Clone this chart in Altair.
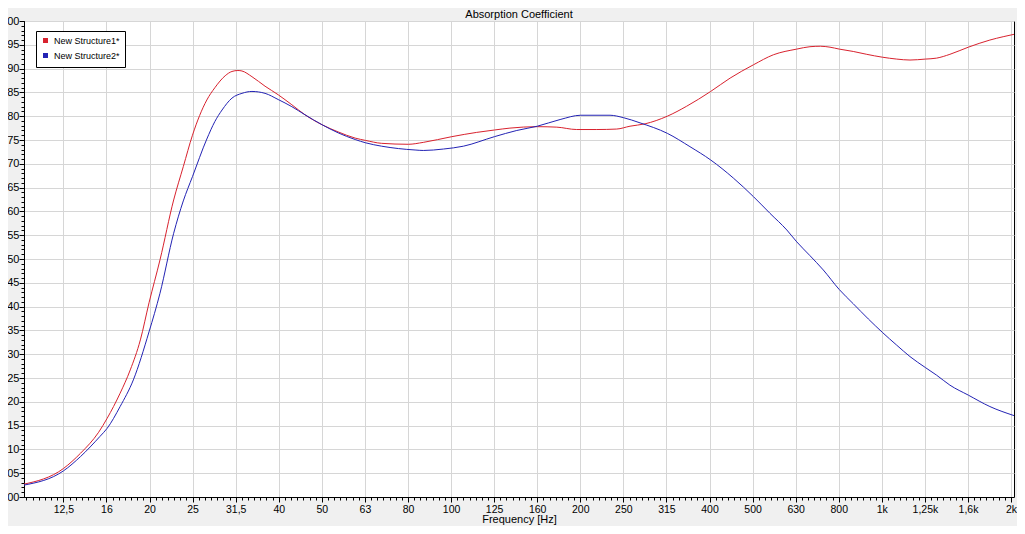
import altair as alt
import pandas as pd

# ---- data ----
series_names = ["New Structure1*", "New Structure2*"]

s1_freq = [10.2, 12.6, 13.8, 15.2, 15.9, 17.05, 18.0, 19.0, 19.9, 21.1, 22.7, 23.9, 25.1,
           27.1, 28.3, 29.9, 31.0, 32.0, 32.7, 34.5, 37.0, 39.7, 42.7, 45.8, 50.2,
           54.7, 59.9, 63.4, 69.0, 79.6, 86.2, 100.4, 114.7, 126.1, 137.0, 158.6, 176.0,
           195.7, 217.9, 242.4, 260.3, 282.1, 317.7, 352.4, 400.6, 444.4, 503.5, 560.0,
           634.7, 681.1, 720.0, 758.0, 796.3, 858.4, 922.6, 1002.5, 1082.8, 1162.5, 1262,
           1340, 1439, 1588, 1782, 1913, 2027]
s1_alpha = [0.027, 0.060, 0.092, 0.136, 0.165, 0.218, 0.267, 0.330, 0.408, 0.498, 0.624,
            0.694, 0.760, 0.834, 0.860, 0.885, 0.894, 0.896, 0.895, 0.883, 0.863,
            0.845, 0.824, 0.803, 0.782, 0.767, 0.754, 0.749, 0.743, 0.741, 0.745, 0.757,
            0.766, 0.771, 0.775, 0.778, 0.777, 0.772, 0.772, 0.773, 0.779, 0.784, 0.800,
            0.821, 0.852, 0.880, 0.908, 0.929, 0.941, 0.946, 0.947, 0.945, 0.941, 0.936,
            0.930, 0.924, 0.920, 0.918, 0.920, 0.922, 0.930, 0.945, 0.960, 0.967, 0.972]

s2_freq = [10.2, 12.6, 13.8, 15.3, 15.9, 17.05, 18.3, 19.9, 21.1, 22.7, 23.9, 25.1, 27.1,
           28.3, 29.4, 31.0, 32.7, 34.5, 37.0, 39.7, 42.7, 45.8, 50.2, 54.7, 59.9, 63.4,
           69.0, 75.5, 82.5, 86.2, 96.0, 106.8, 126.1, 142.1, 158.6, 179.1, 200.0, 233.9,
           251.1, 274.6, 317.7, 358.6, 400.6, 452.3, 503.5, 549.9, 601.7, 634.7, 681.1,
           731.3, 796.3, 858.4, 930.5, 1002.5, 1082.8, 1162.5, 1262, 1340, 1439, 1588, 1782,
           2027]
s2_alpha = [0.025, 0.055, 0.085, 0.127, 0.144, 0.190, 0.246, 0.347, 0.428, 0.554, 0.622,
            0.673, 0.752, 0.789, 0.813, 0.838, 0.848, 0.852, 0.848, 0.835, 0.820, 0.803,
            0.782, 0.765, 0.751, 0.744, 0.737, 0.732, 0.729, 0.728, 0.731, 0.737, 0.757,
            0.770, 0.779, 0.793, 0.802, 0.802, 0.797, 0.786, 0.764, 0.736, 0.708, 0.670,
            0.631, 0.596, 0.561, 0.536, 0.507, 0.477, 0.436, 0.406, 0.374, 0.346, 0.319,
            0.295, 0.272, 0.256, 0.235, 0.214, 0.190, 0.171]

band_labels = ["12,5", "16", "20", "25", "31,5", "40", "50", "63", "80", "100", "125",
               "160", "200", "250", "315", "400", "500", "630", "800", "1k", "1,25k",
               "1,6k", "2k"]

df = pd.concat([
    pd.DataFrame({"freq": s1_freq, "alpha": s1_alpha, "series": series_names[0]}),
    pd.DataFrame({"freq": s2_freq, "alpha": s2_alpha, "series": series_names[1]}),
], ignore_index=True)

# ---- axis tick positions (1/3-octave bands, 7 minor steps per band) ----
major_x = [10 ** (n / 10) for n in range(11, 34)]
minor_x = [10 ** (k / 70) for k in range(71, 232)]
major_y = [i / 20 for i in range(21)]
minor_y = [i / 100 for i in range(101)]

label_array = "[" + ",".join("'%s'" % s for s in band_labels) + "]"
x_label_expr = label_array + "[round(10*log(datum.value)/log(10)) - 11]"
y_label_expr = "replace(format(datum.value, '.2f'), '.', ',')"

FONT = "Liberation Sans"
RED = "#d8222e"
BLUE = "#2323b4"

xscale = alt.Scale(type="log", domain=[10.2, 2027], nice=False)
yscale = alt.Scale(domain=[0, 1], nice=False, zero=False)

lines = alt.Chart(df).mark_line(strokeWidth=1, clip=True, interpolate="monotone").encode(
    x=alt.X("freq:Q", scale=xscale,
            axis=alt.Axis(orient="bottom", values=major_x, labelExpr=x_label_expr,
                          title="Frequency [Hz]", grid=True, tickSize=5,
                          labelFontSize=10.5, labelPadding=2, titlePadding=-1,
                          labelFlush=False, labelOverlap=False)),
    y=alt.Y("alpha:Q", scale=yscale,
            axis=alt.Axis(orient="left", values=major_y, labelExpr=y_label_expr,
                          title=None, grid=True, tickSize=5, labelPadding=0,
                          labelFlush=False, labelOverlap=False)),
    color=alt.Color("series:N",
                    scale=alt.Scale(domain=series_names, range=[RED, BLUE]),
                    legend=alt.Legend(orient="none", legendX=12, legendY=10,
                                      title=None, fillColor="white",
                                      strokeColor="black", padding=5,
                                      symbolType="square", symbolSize=6.25,
                                      symbolStrokeWidth=2.5, labelFontSize=9,
                                      labelFont=FONT, labelOffset=4,
                                      rowPadding=2, labelColor="black")),
    order=alt.Order("freq:Q"),
)

minor = alt.Chart(df).mark_line(opacity=0).encode(
    x=alt.X("freq:Q", scale=xscale,
            axis=alt.Axis(orient="bottom", values=minor_x, labels=False, grid=False,
                          domain=False, tickSize=3, title=None)),
    y=alt.Y("alpha:Q", scale=yscale,
            axis=alt.Axis(orient="left", values=minor_y, labels=False, grid=False,
                          domain=False, tickSize=3, title=None)),
    detail="series:N",
)

chart = alt.layer(lines, minor).resolve_axis(
    x="independent", y="independent"
).properties(
    width=990,
    height=476,
    title=alt.TitleParams("Absorption Coefficient", fontSize=11, fontWeight="normal",
                          font=FONT, color="black", anchor="middle", offset=2, dy=7),
    autosize=alt.AutoSizeParams(type="none"),
    padding={"left": 16, "top": 13, "right": 3, "bottom": 29},
).configure(
    background="#f0f0f0",
).configure_view(
    fill="white", stroke="black", strokeWidth=1,
).configure_axis(
    labelFont=FONT, labelFontSize=11, labelColor="black",
    titleFont=FONT, titleFontSize=11, titleColor="black", titleFontWeight="normal",
    tickColor="black", domainColor="black", gridColor="#d6d6d6", gridWidth=1,
)

chart.save("out.html", embed_options={"renderer": "svg", "actions": False})
